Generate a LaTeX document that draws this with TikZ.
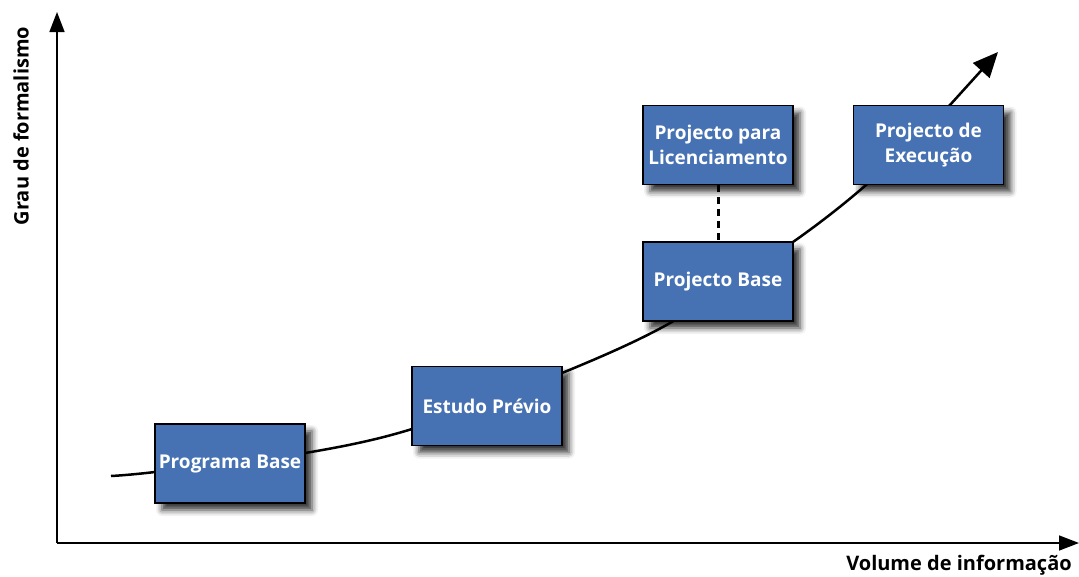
\documentclass[tikz,border=0pt]{standalone}
\usepackage{fontspec}
\setmainfont{Open Sans}
\usetikzlibrary{positioning,arrows.meta,shadows.blur}
\definecolor{faseazul}{RGB}{70,114,180}
\tikzset{fase node/.style={rectangle,draw=black,line width=1.5pt,fill=faseazul,
minimum width=150pt,minimum height=79pt,inner sep=2pt,align=center,text=white,
font=\bfseries\fontsize{19}{25}\selectfont,
blur shadow={shadow xshift=7pt,shadow yshift=-7pt,shadow blur radius=6pt,shadow opacity=80}}}
\tikzset{eixo label/.style={font=\bfseries\fontsize{20}{22}\selectfont}}

\begin{document}
\begin{tikzpicture}[x=1pt,y=-1pt]
    \useasboundingbox (0,0) rectangle (1079,576);

    % eixos
    \coordinate (origem) at (57,543);
    \coordinate (topo) at (57,12);
    \coordinate (direita) at (1079,543);
    \draw[line width=1.5pt,-{Triangle[length=20pt,width=15pt]}] (origem) -- (topo);
    \draw[line width=1.5pt,-{Triangle[length=20pt,width=15pt]}] (origem) -- (direita);
    \node[eixo label,rotate=90] (grau) at (21,126) {Grau de formalismo};
    \node[eixo label] (volume) at (959,565) {Volume de informação};

    % curva
    \coordinate (inicio) at (111,476);
    \coordinate (fim) at (998,52);
    \draw[line width=2.5pt,-{Triangle[length=25pt,width=22pt]}]
        plot[smooth] coordinates {(inicio) (155,472) (305,453) (412,429) (562,373)
        (670,323) (793,242) (866,185) (950,105)} -- (fim);

    % fases
    \node[fase node] (prog) at (230,463.5) {Programa Base};
    \node[fase node] (estudo) at (487,406) {Estudo Prévio};
    \node[fase node] (base) at (718,281.5) {Projecto Base};
    \node[fase node] (lic) [above=56pt of base] {Projecto para\\Licenciamento};
    \node[fase node] (exec) [right=59pt of lic] {Projecto de\\Execução};

    \draw[line width=3pt,dash pattern=on 7pt off 5pt] (lic) -- (base);

\end{tikzpicture}
\end{document}
